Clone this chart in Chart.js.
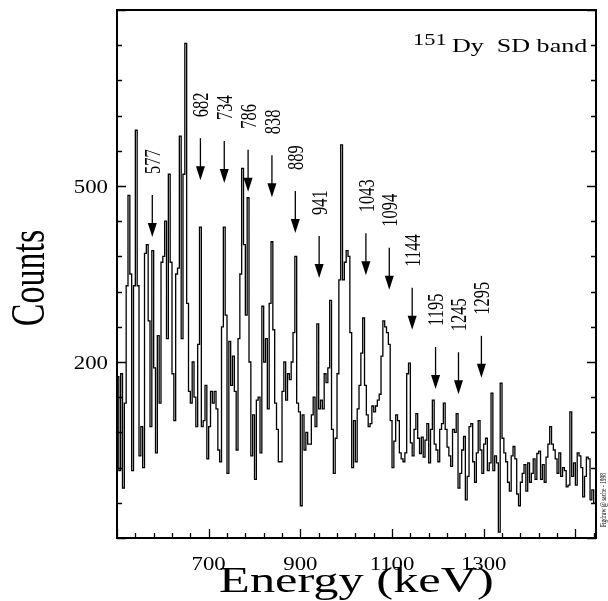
<!DOCTYPE html>
<html>
<head>
<meta charset="utf-8">
<script src="https://cdn.jsdelivr.net/npm/chart.js@4.4.0/dist/chart.umd.min.js"></script>
<style>
  html, body { margin: 0; padding: 0; background: #fff; }
</style>
</head>
<body>
<canvas id="myChart" width="608" height="601"></canvas>
<script>
// gated spectrum, 4 keV bins from 500 keV
const binStart = 500;
const binWidth = 4;
const counts = [
  175, 15, 180, -15, 130, 330, 484, 350, 15, 330,
  595, 330, 40, 90, 20, 385, 400, 270, 90, 390,
  190, 45, 245, 130, 370, 380, 440, 240, 520, 370,
  180, 100, 350, 360, 585, 240, 520, 743, 300, 150,
  130, 200, 140, 90, 230, 430, 90, 100, 160, 35,
  90, 150, 130,
  150, 120, 50, 30, 260, 430, 280, 10, 235, 160,
  210, 150, 50, 240, 350, 530, 400, 280, 480, 200,
  40, 110, 0, 135, 140, 45, 295, 200, 240, 120,
  300, 405, 255, 130, 85, 30, 30, 150, 200, 135,
  180, 170, 200, 250, 380, 130, 115, -45, 110, 50,
  80, 60,
  60, 110, 140, 90, 265, 120, 135, 120, 180, 165,
  190, 305, 85, 10, 70, 180, 340, 570, 340, 370,
  390, 380, 250, 20, 100, 30, 120, 160, 215, 275,
  160, 110, 90, 95, 125, 115, 125, 135, 145, 210,
  270, 260, 250, 230, 100, 20, 65, 110, 100, 45,
  35, 30, 45,
  180, 198, 62, 40, 85, 112, 70, 44, 72, 38,
  67, 95, 28, 85, 135, 60, 50, 30, 85, 95,
  130, 85, 55, 40, 22, 85, 80, 112, -15, 10,
  50, 73, -35, 5, 90, 95, 30, -5, 45, 100,
  50, 10, 60, 70, 15, 28, 147, 15, 40, 28,
  -90, 164,
  70, 45, 30, -5, -20, 40, 56, 35, -25, -45,
  -5, 10, 25, -20, 28, -5, 10, 35, 0, 44,
  48, 0, 25, -5, 38, 60, 90, 60, 50, 35,
  10, 45, 5, 20, 15, -13, -10, 115, 5, 28,
  -10, 45, 40, 20, -30, 5, 38, 35, -35, -18,
  -40
];

// SD band transitions (keV) and where the arrow tips sit (counts)
const peakEnergies = [577, 682, 734, 786, 838, 889, 941, 1043, 1094, 1144, 1195, 1245, 1295];
const arrowTips = [413, 510, 505, 490, 481, 420, 343, 348, 323, 255, 154, 145, 173];

const xTickLabels = [700, 900, 1100, 1300];
const yTickLabels = [200, 500];

const xMin = 500, xMax = 1545;
const yMin = -100, yMax = 800;

const serif = '"Liberation Serif", "Times New Roman", serif';

function drawText(ctx, text, x, y, size, align, rotated, stretch) {
    ctx.save();
    ctx.translate(x, y);
    ctx.scale(stretch || 1.4, 1);
    if (rotated) ctx.rotate(-Math.PI / 2);
    ctx.font = size + 'px ' + serif;
    ctx.fillStyle = '#000';
    ctx.textAlign = align;
    ctx.textBaseline = 'alphabetic';
    // rotated text: shift so glyphs are centred on the anchor
    ctx.fillText(text, 0, rotated ? 0.34 * size : 0);
    ctx.restore();
}

const decor = {
    id: 'decor',
    afterDraw(chart) {
        const ctx = chart.ctx;
        const a = chart.chartArea;
        const xs = chart.scales.x, ys = chart.scales.y;
        ctx.save();
        ctx.strokeStyle = '#000';

        // frame
        ctx.lineWidth = 2;
        ctx.strokeRect(a.left, a.top, a.right - a.left, a.bottom - a.top);

        // inward ticks
        ctx.lineWidth = 1.3;
        ctx.beginPath();
        for (let v = xMin; v <= xMax; v += 40) {
            const px = Math.round(xs.getPixelForValue(v)) + 0.5;
            const len = (v - xMin) % 200 === 0 ? 9 : 5;
            ctx.moveTo(px, a.bottom);
            ctx.lineTo(px, a.bottom - len);
        }
        for (let v = yMin; v <= yMax; v += 60) {
            const py = Math.round(ys.getPixelForValue(v)) + 0.5;
            const len = (v - yMin) % 300 === 0 ? 9 : 5;
            ctx.moveTo(a.left, py);
            ctx.lineTo(a.left + len, py);
            ctx.moveTo(a.right, py);
            ctx.lineTo(a.right - len, py);
        }
        ctx.stroke();

        // tick labels
        xTickLabels.forEach(v => drawText(ctx, String(v), xs.getPixelForValue(v), 570, 19, 'center', false, 1.2));
        yTickLabels.forEach(v => drawText(ctx, String(v), 108, ys.getPixelForValue(v) + 7, 19, 'right', false, 1.2));

        // arrows + labels
        peakEnergies.forEach((e, i) => {
            const px = xs.getPixelForValue(e);
            const tip = ys.getPixelForValue(arrowTips[i]);
            ctx.lineWidth = 1.3;
            ctx.beginPath();
            ctx.moveTo(px, tip - 42);
            ctx.lineTo(px, tip - 10);
            ctx.stroke();
            ctx.beginPath();
            ctx.moveTo(px - 4.5, tip - 14);
            ctx.lineTo(px + 4.5, tip - 14);
            ctx.lineTo(px, tip);
            ctx.closePath();
            ctx.fillStyle = '#000';
            ctx.fill();
            drawText(ctx, String(e), px, tip - 63, 16.5, 'left', true);
        });

        // titles and notes
        drawText(ctx, 'Energy (keV)', (a.left + a.right) / 2, 592, 36, 'center', false);
        drawText(ctx, 'Counts', 28, (a.top + a.bottom) / 2 + 4, 34, 'center', true);
        drawText(ctx, '151', 413, 45, 16, 'left', false);
        drawText(ctx, 'Dy  SD band', 452, 52, 18.6, 'left', false);
        drawText(ctx, 'Figdraw @ sache - 1998', 603, 500, 5.5, 'center', true);
        ctx.restore();
    }
};

const ctx = document.getElementById('myChart');

const spectrum = new Chart(ctx, {
    type: 'line',
    data: {
        datasets: [{
            label: '151Dy',
            data: counts.map((c, i) => ({ x: binStart + binWidth * (i + 0.5), y: c })),
            stepped: 'middle',
            borderColor: '#000',
            borderWidth: 1.3,
            pointRadius: 0,
            fill: false
        }]
    },
    options: {
        responsive: false,
        animation: false,
        devicePixelRatio: 1,
        layout: { padding: { top: 10, right: 12, left: 0, bottom: 0 } },
        plugins: {
            legend: { display: false },
            tooltip: { enabled: false }
        },
        scales: {
            x: {
                type: 'linear',
                min: xMin,
                max: xMax,
                grid: { display: false, drawTicks: false },
                border: { display: false },
                ticks: { display: false },
                afterFit: (s) => { s.height = 63; }
            },
            y: {
                type: 'linear',
                min: yMin,
                max: yMax,
                grid: { display: false, drawTicks: false },
                border: { display: false },
                ticks: { display: false },
                afterFit: (s) => { s.width = 117; }
            }
        }
    },
    plugins: [decor]
});
</script>
</body>
</html>
